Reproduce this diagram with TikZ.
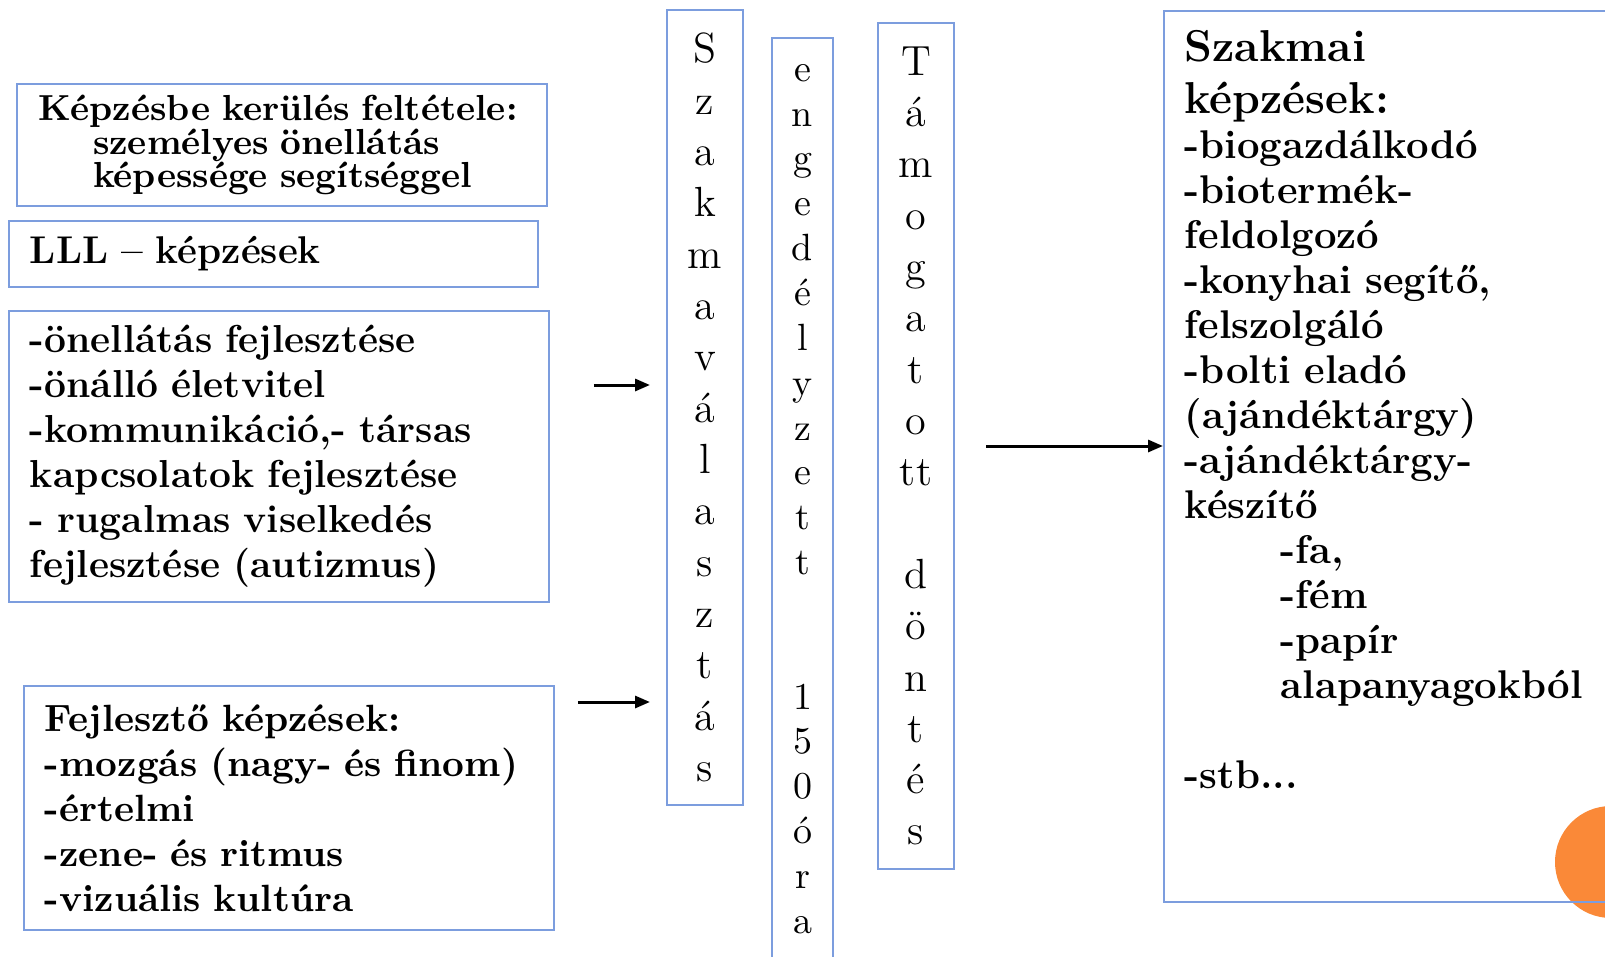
\documentclass[tikz,border=0pt]{standalone}
\usepackage{fontspec}
\usepackage{tikz}
\usetikzlibrary{arrows.meta}
\usepackage{xcolor}
\definecolor{ColFrame}{RGB}{124,157,222}
\definecolor{ColDisc}{RGB}{250,137,56}
\tikzstyle{NodeBox}=[draw=ColFrame,line width=0.2mm,anchor=north west,inner xsep=2.1mm,inner ysep=0pt,
align=left,font=\bfseries\fontsize{10.8}{12.8}\selectfont]
\tikzstyle{NodeColumn}=[draw=ColFrame,line width=0.2mm,align=center,inner sep=0pt,
font=\fontsize{12}{14.6}\selectfont]
\tikzstyle{NodeDisc}=[circle,fill=ColDisc,inner sep=0pt,minimum size=11.2mm]
\tikzstyle{EdgeArrow}=[-{Triangle[length=1.5mm,width=1.2mm]},line width=0.3mm]

\begin{document}
\begin{tikzpicture}[x=0.1mm,y=-0.1mm]
        \path[use as bounding box,fill=white](0,0)rectangle(1605,957);
        \clip(0,0)rectangle(1605,957);
        \node[NodeDisc](korong)at(1611,862){};
        % left column of boxes
        \node[NodeBox,minimum width=53mm,minimum height=12.2mm,text width=48.8mm,
            font=\bfseries\fontsize{10.3}{9.6}\selectfont](feltetel)at(16,83){Képzésbe kerülés feltétele:\\
            \hspace*{5.5mm}személyes önellátás\\\hspace*{5.5mm}képessége segítséggel};
        \node[NodeBox,minimum width=52.9mm,minimum height=6.6mm,text width=48.7mm,
            font=\bfseries\fontsize{11}{12.8}\selectfont](lll)at(8,220){LLL – képzések};
        \node[NodeBox,minimum width=54mm,minimum height=29.1mm,text width=49.8mm,
            font=\bfseries\fontsize{11.1}{12.8}\selectfont](onell)at(8,310){-önellátás fejlesztése\\
            -önálló életvitel\\-kommunikáció,- társas\\kapcsolatok fejlesztése\\- rugalmas viselkedés\\
            fejlesztése (autizmus)};
        \node[NodeBox,minimum width=53mm,minimum height=24.4mm,text width=48.8mm](fejl)at(23,685){Fejlesztő képzések:\\
            -mozgás (nagy- és finom)\\-értelmi\\-zene- és ritmus\\-vizuális kultúra};
        % vertical columns
        \node[NodeColumn,minimum width=7.6mm,minimum height=79.5mm](szakma)at(705,407.5){S\\z\\a\\k\\m\\a\\v\\á\\l\\a\\s\\z\\t\\á\\s};
        \node[NodeColumn,minimum width=6.1mm,minimum height=92.2mm,font=\fontsize{10.8}{12.76}\selectfont](engedely)at(802.5,499){e\\n\\g\\e\\d\\é\\l\\y\\z\\e\\t\\t\\~\\~\\1\\5\\0\\ó\\r\\a};
        \node[NodeColumn,minimum width=7.6mm,minimum height=84.6mm](tamog)at(916,446){T\\á\\m\\o\\g\\a\\t\\o\\tt\\~\\d\\ö\\n\\t\\é\\s};
        % right box
        \node[NodeBox,minimum width=46mm,minimum height=89.1mm](szakmai)at(1163,10){};
        \node[anchor=north west,align=left,inner sep=0pt,text width=44mm,
            font=\bfseries\fontsize{11.4}{12.8}\selectfont](szaklista)at(1184,30){{\fontsize{12.7}{14.8}\selectfont Szakmai\\képzések:\par}
            -biogazdálkodó\\-biotermék-\\feldolgozó\\-konyhai segítő,\\felszolgáló\\-bolti eladó\\(ajándéktárgy)\\
            -ajándéktárgy-\\készítő\\\hspace*{9.6mm}-fa,\\\hspace*{9.6mm}-fém\\\hspace*{9.6mm}-papír\\
            \hspace*{9.6mm}alapanyagokból\\~\\-stb...};
        % arrows
        \coordinate(ny1)at(0,385);
        \coordinate(ny2)at(0,702);
        \draw[EdgeArrow,shorten <=4.4mm,shorten >=1.6mm](onell.east|-ny1)--(szakma.west|-ny1);
        \draw[EdgeArrow,shorten <=2.3mm,shorten >=1.6mm](fejl.east|-ny2)--(szakma.west|-ny2);
        \draw[EdgeArrow,shorten <=3.1mm](tamog.east)--(szakmai.west|-tamog.east);
    \end{tikzpicture}
\end{document}
